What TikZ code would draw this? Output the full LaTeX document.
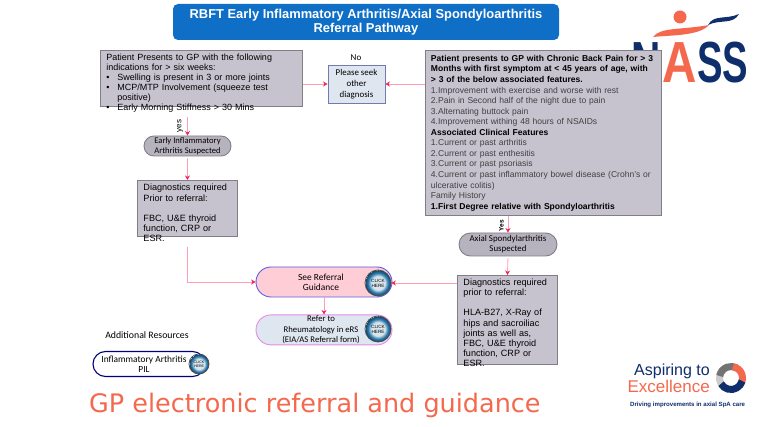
\documentclass[tikz,border=0pt]{standalone}
\usepackage{fontspec}
\setmainfont{Liberation Sans}
\newfontfamily\labelfont{Carlito}
\newfontfamily\slidefont{DejaVu Sans}
\usepackage{tikz}
\usetikzlibrary{positioning, arrows.meta, calc, shapes.misc}
\definecolor{bluehead}{HTML}{0F6FC6}
\definecolor{greybox}{HTML}{C7C3CE}
\definecolor{greyline}{HTML}{7F7F88}
\definecolor{paleblue}{HTML}{DEE6F0}
\definecolor{palepink}{HTML}{FFCDD6}
\definecolor{linkpink}{HTML}{FF9DB2}
\definecolor{tipred}{HTML}{F0245A}
\definecolor{nassnavy}{HTML}{0E2F6B}
\definecolor{nassorange}{HTML}{F4694E}
\definecolor{ballmid}{HTML}{2F7FB0}
\definecolor{balldark}{HTML}{123F63}
\definecolor{ballpale}{HTML}{D8E6EE}
\pgfdeclareradialshading{ballshade}{\pgfpointorigin}{color(0bp)=(ballpale);color(13bp)=(ballpale);color(19bp)=(ballmid);color(25bp)=(balldark)}
\newcommand{\itemrow}[1]{\makebox[11pt][l]{\textbullet}#1}
\tikzset{
  link/.style={draw=linkpink, line width=0.8pt, -{Stealth[length=4.5pt, width=5pt, color=tipred]}},
  greytext/.style={draw=greyline, line width=0.9pt, fill=greybox, align=left, anchor=north west, inner xsep=6pt, inner ysep=2pt, font=\fontsize{9}{10}\selectfont, text=black},
  diagtext/.style={greytext, inner ysep=3pt, minimum width=100pt, text width=88pt, text height=7pt, font=\fontsize{9.1}{10.2}\selectfont},
  pill/.style={rounded rectangle, minimum width=136pt, minimum height=30pt, inner sep=0pt, align=center, font=\labelfont\fontsize{9.4}{10.3}\selectfont, line width=0.9pt},
  oval/.style={rounded rectangle, draw=greyline, line width=0.9pt, fill=greybox!92!black, inner sep=0pt, align=center, font=\labelfont\fontsize{8.6}{10}\selectfont},
  clickball/.style={circle, draw=black!70, line width=0.8pt, shading=ballshade, inner sep=0pt, align=center, font=\fontsize{4.6}{5.2}\selectfont},
  tag/.style={font=\labelfont\fontsize{9}{10}\selectfont, inner sep=0pt},
  ringarc/.style={line width=7pt},
  nassletter/.style={inner sep=0pt, font=\bfseries\fontsize{58}{58}\selectfont}
}
\begin{document}
\begin{tikzpicture}[x=1pt, y=-1pt]
\useasboundingbox (0,0) rectangle (765,427);
\fill[white] (0,0) rectangle (765,427);
% nass logo, goes under the grey box
\node (headdot) [circle, fill=nassorange, minimum size=13pt, inner sep=0pt] at (680,17) {};
\fill[nassorange] (653,37) .. controls (660,27) and (682,30) .. (709,25) .. controls (699,36) and (672,35) .. (653,37) -- cycle;
\fill[nassnavy] (708,25) .. controls (714,14) and (726,20) .. (739,14) .. controls (733,25) and (720,19) .. (708,25) -- cycle;
\node (nassn) [nassletter, anchor=base, text=nassnavy, xscale=0.7] at (646.5,83) {N};
\node (nassa) [nassletter, anchor=base, text=nassorange, xscale=0.82] at (680,83) {A};
\node (nasss) [nassletter, anchor=base west, text=nassnavy, xscale=0.66] at (697,83) {SS};
% header
\node (header) [rounded corners=5pt, fill=bluehead, text=white, minimum width=386pt, minimum height=36pt, inner sep=0pt, align=center, font=\bfseries\fontsize{12.9}{14.6}\selectfont] at (366,22) {RBFT Early Inflammatory Arthritis/Axial Spondyloarthritis\\Referral Pathway};
% left side
\node (earlybox) [greytext, minimum width=202pt, minimum height=56pt, text width=190pt, text height=7pt, text depth=42pt] at (100,50) {Patient Presents to GP with the following\\indications  for > six weeks:\\\itemrow{Swelling is present in 3 or more joints}\\\itemrow{MCP/MTP Involvement (squeeze test}\\\hspace*{11pt}positive)\\\itemrow{Early Morning Stiffness > 30 Mins}};
\node (seekbox) [draw=blue!25!paleblue!70!black, line width=0.9pt, fill=paleblue, minimum width=57pt, minimum height=38pt, inner sep=0pt, align=center, font=\labelfont\fontsize{8.9}{11}\selectfont] at (356.5,84) {Please seek\\other\\diagnosis};
\node (notag) [tag] at (356,58) {No};
\node (earlyoval) [oval, minimum width=87pt, minimum height=20pt] at (187.5,146) {Early Inflammatory\\Arthritis Suspected};
\node (earlydiag) [diagtext, minimum height=56pt, text depth=42pt] at (137,180) {Diagnostics required\\Prior to referral:\\[10pt]FBC, U\&E thyroid\\function, CRP or\\ESR.};
% right side
\node (axialbox) [greytext, inner xsep=5.5pt, minimum width=236pt, minimum height=165pt, text width=225pt, text height=7pt, text depth=150pt, font=\fontsize{8.55}{10.55}\selectfont] at (425,50) {\textbf{Patient presents to GP with Chronic Back Pain for > 3}\\\textbf{Months with first symptom at < 45 years of age, with}\\\textbf{> 3 of the below associated features.}\\\textcolor{black!75}{1.Improvement with exercise and worse with rest}\\\textcolor{black!75}{2.Pain in Second half of the night due to pain}\\\textcolor{black!75}{3.Alternating buttock pain}\\\textcolor{black!75}{4.Improvement withing 48 hours of NSAIDs}\\\textbf{Associated Clinical Features}\\\textcolor{black!75}{1.Current or past arthritis}\\\textcolor{black!75}{2.Current or past enthesitis}\\\textcolor{black!75}{3.Current or past psoriasis}\\\textcolor{black!75}{4.Current or past inflammatory bowel disease (Crohn's or}\\\textcolor{black!75}{ulcerative colitis)}\\\textcolor{black!75}{Family History}\\\textbf{1.First Degree relative with Spondyloarthritis}};
\node (axialoval) [oval, minimum width=98pt, minimum height=23pt, font=\labelfont\fontsize{8.9}{10}\selectfont] at (508,244.5) {Axial Spondylarthritis\\Suspected};
\node (axialdiag) [diagtext, minimum height=87pt, text depth=76pt] at (457,275) {Diagnostics required\\prior to referral:\\[10pt]HLA-B27, X-Ray of\\hips and sacroiliac\\joints as well as,\\FBC, U\&E thyroid\\function, CRP or\\ESR.};
% middle pills
\node (guidepill) [pill, draw=blue!60!white!90!black, fill=palepink, font=\labelfont\fontsize{9.4}{10.3}\selectfont] at (324,282) {\hspace*{-6pt}See  Referral\\\hspace*{-6pt}Guidance};
\node (guideclick) [clickball, minimum size=26pt] at (378,283) {CLICK\\HERE};
\node (referpill) [pill, below=17pt of guidepill, draw=violet!45!magenta!45!white, fill=paleblue, font=\labelfont\fontsize{8.7}{10.4}\selectfont] {\hspace*{-6pt}Refer to\\\hspace*{-6pt}Rheumatology in eRS\\\hspace*{-6pt}(EIA/AS Referral form)};
\node (referclick) [clickball, minimum size=26pt] at (378,329) {CLICK\\HERE};
\node (extratag) [tag, font=\labelfont\fontsize{9.8}{10}\selectfont] at (147,335) {Additional Resources};
\node (pilpill) [pill, minimum width=112pt, minimum height=25pt, draw=blue!50!black, line width=1.1pt, fill=white] at (149,364) {\hspace*{-10pt}Inflammatory Arthritis\\\hspace*{-10pt}PIL};
\node (pilclick) [clickball, minimum size=20pt, font=\fontsize{3.6}{4}\selectfont] at (199,364) {CLICK\\HERE};
\node (slidetitle) [anchor=base west, inner sep=0pt, text=nassorange, font=\slidefont\fontsize{25.5}{26}\selectfont] at (89,412) {GP electronic referral and guidance};
% aspiring logo
\node (aspire) [anchor=base east, inner sep=0pt, text=nassnavy, font=\fontsize{16}{16}\selectfont] at (710,375) {Aspiring to};
\node (excel) [anchor=base east, inner sep=0pt, text=nassorange, font=\fontsize{17}{17}\selectfont] at (710,392) {Excellence};
\node (driving) [anchor=base west, inner sep=0pt, text=nassnavy, font=\bfseries\fontsize{6.1}{7}\selectfont] at (630,406) {Driving improvements in axial SpA care};
\coordinate (ringc) at (731,378);
\draw[ringarc, black!20] ([shift={(120:11.5pt)}]ringc) arc[start angle=120, end angle=250, radius=11.5pt];
\draw[ringarc, black!55] ([shift={(170:11.5pt)}]ringc) arc[start angle=170, end angle=60, radius=11.5pt];
\draw[ringarc, nassorange] ([shift={(80:11.5pt)}]ringc) arc[start angle=80, end angle=-35, radius=11.5pt];
\draw[ringarc, nassnavy] ([shift={(-15:11.5pt)}]ringc) arc[start angle=-15, end angle=-150, radius=11.5pt];
% connectors
\draw[link] (earlybox.east |- seekbox.west) -- (seekbox.west);
\draw[link] (axialbox.west |- seekbox.east) -- (seekbox.east);
\draw[link, shorten <=10pt] (earlybox.south -| earlyoval.north) -- (earlyoval.north) node[pos=0.67, xshift=-4pt, rotate=90, anchor=south, tag, font=\fontsize{8}{9}\selectfont] {yes};
\draw[link, shorten <=2pt] (earlyoval.south) -- (earlydiag.north);
\draw[link, shorten <=10pt] (earlydiag.south) |- (guidepill.west);
\draw[link] (guidepill.south) -- (referpill.north);
\draw[link] (axialbox.south -| axialoval.north) -- (axialoval.north) node[pos=0.6, xshift=-4pt, rotate=90, anchor=south, tag, font=\bfseries\fontsize{6.5}{8}\selectfont] {Yes};
\draw[link, shorten <=2pt] (axialoval.south) -- (axialdiag.north);
\draw[link] (axialdiag.west |- guideclick.east) -- (guideclick.east);
\end{tikzpicture}
\end{document}
